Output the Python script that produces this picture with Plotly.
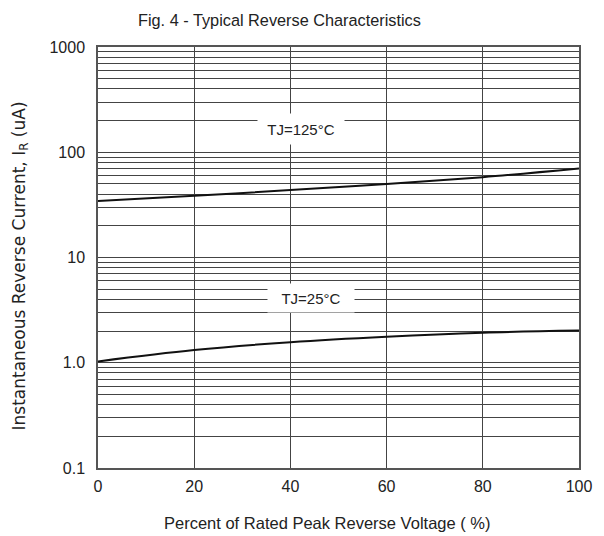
import plotly.graph_objects as go

x_pct = [0, 20, 40, 60, 80, 100]
ir_125 = [34.4, 38.6, 43.7, 50.0, 58.0, 70.0]
ir_25 = [1.03, 1.32, 1.57, 1.77, 1.93, 2.02]

x_ticks = [0, 20, 40, 60, 80, 100]
y_major = [0.1, 1, 10, 100, 1000]
y_major_text = ["0.1", "1.0", "10", "100", "1000"]

font_family = "Liberation Sans, Arial, sans-serif"
txt_color = "#222"

y_vals = []
y_text = []
for d in [0.1, 1, 10, 100]:
    for m in range(1, 10):
        v = round(d * m, 6)
        y_vals.append(v)
        y_text.append(y_major_text[y_major.index(d)] if m == 1 else "")
y_vals.append(1000)
y_text.append("1000")

fig = go.Figure()
fig.add_trace(go.Scatter(x=x_pct, y=ir_125, mode="lines", line=dict(color="#111", width=2, shape="spline"), showlegend=False))
fig.add_trace(go.Scatter(x=x_pct, y=ir_25, mode="lines", line=dict(color="#111", width=2, shape="spline"), showlegend=False))

fig.add_annotation(x=42.1, y=2.221, xref="x", yref="y", text="TJ=125°C", showarrow=False,
                   font=dict(family=font_family, size=15, color=txt_color), bgcolor="white",
                   borderpad=6, width=74, height=18)
fig.add_annotation(x=44.2, y=0.615, xref="x", yref="y", text="TJ=25°C", showarrow=False,
                   font=dict(family=font_family, size=15, color=txt_color), bgcolor="white",
                   borderpad=6, width=74, height=16)

# titles as annotations for exact placement
fig.add_annotation(x=0.378, y=1.064, xref="paper", yref="paper", text="Fig. 4 - Typical Reverse Characteristics",
                   showarrow=False, font=dict(family=font_family, size=16.3, color=txt_color),
                   xanchor="center", yanchor="middle")
fig.add_annotation(x=0.477, y=-0.131, xref="paper", yref="paper", text="Percent of Rated Peak Reverse Voltage ( %)",
                   showarrow=False, font=dict(family=font_family, size=16.5, color=txt_color),
                   xanchor="center", yanchor="middle")
fig.add_annotation(x=-0.161, y=0.48, xref="paper", yref="paper",
                   text="Instantaneous Reverse Current, I<sub>R</sub> (uA)",
                   showarrow=False, textangle=-90, font=dict(family="DejaVu Sans, sans-serif", size=17, color=txt_color),
                   xanchor="center", yanchor="middle")

fig.update_layout(
    width=604, height=536,
    margin=dict(l=98, r=22, t=47, b=68),
    paper_bgcolor="white", plot_bgcolor="white",
    font=dict(family=font_family, size=16, color=txt_color),
)
fig.update_xaxes(range=[0, 100], tickvals=x_ticks, ticktext=[str(v) for v in x_ticks],
                 showgrid=True, gridcolor="#444", gridwidth=1, zeroline=False,
                 showline=True, linecolor="#555", linewidth=1.5, mirror=True, ticks="",
                 ticklabelstandoff=3)
fig.update_yaxes(type="log", range=[-1, 3], tickvals=y_vals, ticktext=y_text,
                 showgrid=True, gridcolor="#444", gridwidth=1, zeroline=False,
                 showline=True, linecolor="#555", linewidth=1.5, mirror=True, ticks="",
                 ticklabelstandoff=8)

fig.write_html("out.html")
